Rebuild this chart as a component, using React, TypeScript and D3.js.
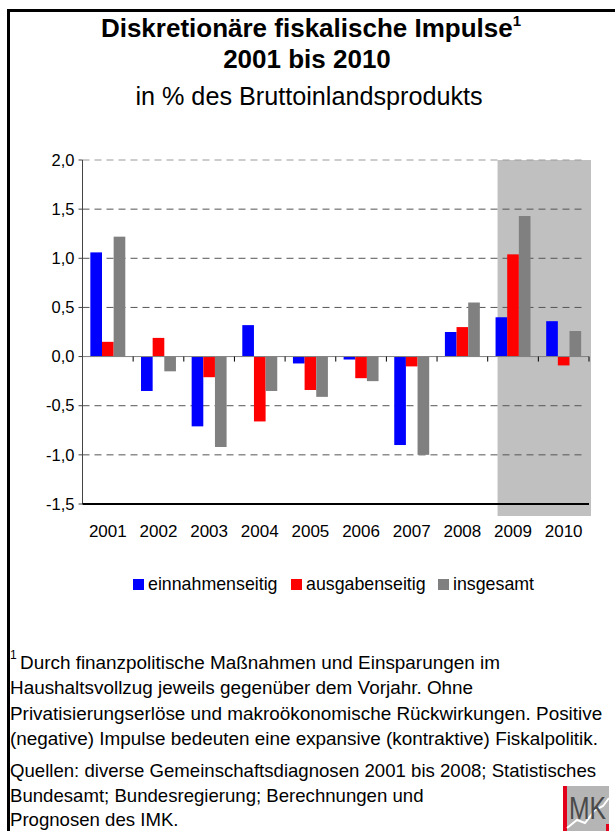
import React from 'react';
import * as d3 from 'd3';

const years = ['2001', '2002', '2003', '2004', '2005', '2006', '2007', '2008', '2009', '2010'];
const seriesNames = ['einnahmenseitig', 'ausgabenseitig', 'insgesamt'];
const einnahmen = [1.06, -0.35, -0.71, 0.32, -0.07, -0.03, -0.9, 0.25, 0.4, 0.36];
const ausgaben = [0.15, 0.19, -0.21, -0.66, -0.34, -0.22, -0.1, 0.3, 1.04, -0.09];
const insgesamt = [1.22, -0.15, -0.92, -0.35, -0.41, -0.25, -1.0, 0.55, 1.43, 0.26];
const yTicks = [2.0, 1.5, 1.0, 0.5, 0.0, -0.5, -1.0, -1.5];
const shadedYears = ['2009', '2010'];
const colors = ['#0000ff', '#ff0000', '#808080'];

const footnote = [
  'Durch finanzpolitische Maßnahmen und Einsparungen im',
  'Haushaltsvollzug jeweils gegenüber dem Vorjahr. Ohne',
  'Privatisierungserlöse und makroökonomische Rückwirkungen. Positive',
  '(negative) Impulse bedeuten eine expansive (kontraktive) Fiskalpolitik.',
];
const sources = [
  'Quellen: diverse Gemeinschaftsdiagnosen 2001 bis 2008; Statistisches',
  'Bundesamt; Bundesregierung; Berechnungen und',
  'Prognosen des IMK.',
];

const W = 615;
const H = 831;
const font = '"Liberation Sans", Arial, sans-serif';

export default function App() {
  const values = [einnahmen, ausgaben, insgesamt];
  const x0 = d3.scaleBand().domain(years).range([82.5, 589]).paddingInner(0.31).paddingOuter(0.155);
  const x1 = d3.scaleBand().domain(seriesNames).range([0, x0.bandwidth()]);
  const y = d3.scaleLinear().domain([-1.5, 2.0]).range([504, 160]);
  const step = x0.step();
  const left = 82.5;
  const right = 589;
  const fmt = (v: number) => d3.format('.1f')(v).replace('.', ',').replace('−', '-');

  const shadeX = x0(shadedYears[0])! + 2;

  return (
    <svg width={W} height={H} style={{ position: 'absolute', left: 0, top: 0, background: '#fff' }} fontFamily={font}>
      {/* frame */}
      <line x1={8.5} x2={8.5} y1={9} y2={H} stroke="#000" strokeWidth={3} />
      <line x1={7} x2={W} y1={10.5} y2={10.5} stroke="#000" strokeWidth={3} />

      {/* titles */}
      <text x={311} y={37} textAnchor="middle" fontSize={26} fontWeight="bold">
        Diskretionäre fiskalische Impulse
        <tspan fontSize={15} dy={-11}>1</tspan>
      </text>
      <text x={307} y={68} textAnchor="middle" fontSize={26} fontWeight="bold">2001 bis 2010</text>
      <text x={309} y={105} textAnchor="middle" fontSize={25.2}>in % des Bruttoinlandsprodukts</text>

      {/* shaded forecast area */}
      <rect x={shadeX} y={y(2.0)} width={right + 2 - shadeX} height={y(-1.5) + 12 - y(2.0)} fill="#c0c0c0" />

      {/* gridlines */}
      {yTicks.filter(t => t !== 0 && t !== -1.5).map(t => (
        <line key={t} x1={left} x2={right - 6} y1={y(t)} y2={y(t)}
          stroke={t === 2.0 ? '#999' : '#555'} strokeWidth={1} strokeDasharray="7,5" />
      ))}

      {/* bars */}
      {years.map((yr, i) => (
        <g key={yr} transform={`translate(${x0(yr)},0)`}>
          {values.map((s, j) => (
            <rect key={j} x={x1(seriesNames[j])} width={x1.bandwidth()}
              y={Math.min(y(s[i]), y(0))} height={Math.abs(y(s[i]) - y(0))} fill={colors[j]} />
          ))}
        </g>
      ))}

      {/* zero line with ticks */}
      <line x1={left} x2={right} y1={y(0)} y2={y(0)} stroke="#808080" strokeWidth={1} />
      {years.map((yr, i) => (
        <line key={yr} x1={left + step * (i + 1)} x2={left + step * (i + 1)} y1={y(0)} y2={y(0) + 5} stroke="#000" />
      ))}

      {/* y axis */}
      <line x1={left} x2={left} y1={y(2.0)} y2={y(-1.5)} stroke="#444" strokeWidth={1} />
      {yTicks.map(t => (
        <g key={t}>
          <line x1={left - 4} x2={left} y1={y(t)} y2={y(t)} stroke="#444" />
          <text x={left - 8} y={y(t)} dy="0.35em" textAnchor="end" fontSize={16.5}>{fmt(t)}</text>
        </g>
      ))}

      {/* bottom axis line */}
      <line x1={left} x2={right} y1={y(-1.5)} y2={y(-1.5)} stroke="#000" strokeWidth={2} />

      {/* x labels */}
      {years.map(yr => (
        <text key={yr} x={x0(yr)! + x0.bandwidth() / 2} y={537} textAnchor="middle" fontSize={17}>{yr}</text>
      ))}

      {/* legend */}
      {seriesNames.map((n, j) => {
        const lx = [133, 291, 438][j];
        return (
          <g key={n}>
            <rect x={lx} y={579} width={11} height={11} fill={colors[j]} />
            <text x={lx + 15} y={590} fontSize={17.8}>{n}</text>
          </g>
        );
      })}

      {/* footnote */}
      <text x={10} y={659} fontSize={12}>1</text>
      {footnote.map((l, i) => (
        <text key={i} x={i === 0 ? 20 : 10} y={669 + i * 25.3} fontSize={18.9}>{l}</text>
      ))}
      {sources.map((l, i) => (
        <text key={i} x={10} y={777 + i * 24.5} fontSize={18.6}>{l}</text>
      ))}

      {/* IMK logo */}
      <g transform="translate(563,786)">
        <rect x={0} y={0} width={46} height={45} fill="#b5b5b5" />
        <rect x={0} y={0} width={4} height={45} fill="#e2001a" />
        <polyline points="4,42 14,34 22,37 32,24 40,20 46,12" fill="none" stroke="#fff" strokeWidth={2} />
        <text x={6} y={33} fontSize={31} fill="#4a4a4a" textLength={37} lengthAdjust="spacingAndGlyphs" fontFamily={font}>MK</text>
        <rect x={43} y={38} width={3} height={7} fill="#e2001a" />
      </g>
    </svg>
  );
}
